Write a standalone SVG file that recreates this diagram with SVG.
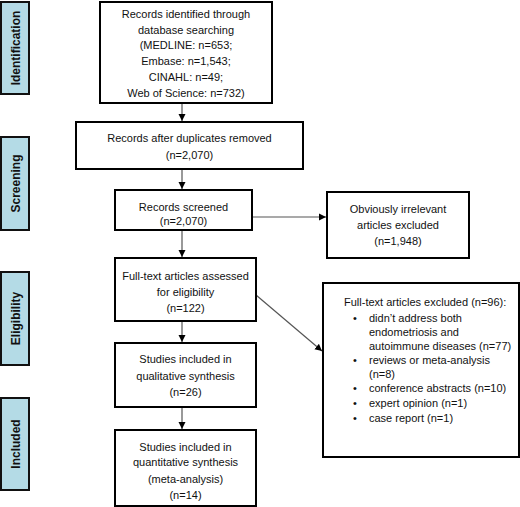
<svg xmlns="http://www.w3.org/2000/svg" width="520" height="507" viewBox="0 0 520 507">
<style>
.side{fill:#b4dbe6;stroke:#111;stroke-width:2}
.box{fill:#fff;stroke:#000;stroke-width:2}
text{font-family:"Liberation Sans",Arial,sans-serif;font-size:11px;fill:#111}
.c{text-anchor:middle}
.lab{font-weight:bold;font-size:12px;text-anchor:middle}
.conn{stroke:#555;stroke-width:1.2;fill:none;marker-end:url(#ah)}
</style>
<defs>
<marker id="ah" markerWidth="8" markerHeight="8" refX="7" refY="4" orient="auto" markerUnits="userSpaceOnUse">
<path d="M0,0.5 L7,4 L0,7.5 Z" fill="#000"/>
</marker>
</defs>
<rect width="520" height="507" fill="#fff"/>
<g id="stage-identification"><rect class="side" x="1" y="2" width="28" height="92"/><text class="lab" transform="translate(19.5,48) rotate(-90)">Identification</text></g>
<g id="stage-screening"><rect class="side" x="1" y="137" width="28" height="93"/><text class="lab" transform="translate(19.5,183.5) rotate(-90)">Screening</text></g>
<g id="stage-eligibility"><rect class="side" x="1" y="272" width="28" height="93"/><text class="lab" transform="translate(19.5,318.5) rotate(-90)">Eligibility</text></g>
<g id="stage-included"><rect class="side" x="1" y="398" width="28" height="92"/><text class="lab" transform="translate(19.5,444) rotate(-90)">Included</text></g>

<g id="connectors">
<line class="conn" x1="182" y1="103" x2="182" y2="121"/>
<line class="conn" x1="182" y1="169" x2="182" y2="189"/>
<line class="conn" x1="182" y1="230" x2="182" y2="257"/>
<line class="conn" x1="182" y1="321" x2="182" y2="342"/>
<line class="conn" x1="182" y1="407" x2="182" y2="429"/>
<line class="conn" x1="252" y1="217" x2="326" y2="217"/>
<line class="conn" x1="256" y1="295" x2="322" y2="351"/>
</g>

<g id="n-identified"><rect class="box" x="100" y="2" width="172" height="101"/>
<text class="c" x="186" y="18">Records identified through</text>
<text class="c" x="186" y="33.5">database searching</text>
<text class="c" x="186" y="49">(MEDLINE: n=653;</text>
<text class="c" x="186" y="65">Embase: n=1,543;</text>
<text class="c" x="186" y="81">CINAHL: n=49;</text>
<text class="c" x="186" y="97">Web of Science: n=732)</text></g>

<g id="n-duplicates"><rect class="box" x="76" y="122" width="227" height="47"/>
<text class="c" x="189.5" y="142">Records after duplicates removed</text>
<text class="c" x="189.5" y="159">(n=2,070)</text></g>

<g id="n-screened"><rect class="box" x="115" y="190" width="137" height="40"/>
<text class="c" x="183.5" y="210.5">Records screened</text>
<text class="c" x="183.5" y="225">(n=2,070)</text></g>

<g id="n-irrelevant"><rect class="box" x="327" y="192" width="142" height="66"/>
<text class="c" x="398" y="213">Obviously irrelevant</text>
<text class="c" x="398" y="229">articles excluded</text>
<text class="c" x="398" y="245">(n=1,948)</text></g>

<g id="n-fulltext"><rect class="box" x="115" y="258" width="141" height="63"/>
<text class="c" x="185.5" y="280">Full-text articles assessed</text>
<text class="c" x="185.5" y="296">for eligibility</text>
<text class="c" x="185.5" y="312">(n=122)</text></g>

<g id="n-qualitative"><rect class="box" x="115" y="343" width="141" height="64"/>
<text class="c" x="185.5" y="363">Studies included in</text>
<text class="c" x="185.5" y="380">qualitative synthesis</text>
<text class="c" x="185.5" y="396">(n=26)</text></g>

<g id="n-quantitative"><rect class="box" x="115" y="430" width="141" height="76"/>
<text class="c" x="185.5" y="451">Studies included in</text>
<text class="c" x="185.5" y="466">quantitative synthesis</text>
<text class="c" x="185.5" y="483">(meta-analysis)</text>
<text class="c" x="185.5" y="499">(n=14)</text></g>

<g id="n-excluded"><rect class="box" x="323" y="283" width="196" height="174"/>
<text x="344" y="306">Full-text articles excluded (n=96):</text>
<text x="353" y="322">•</text><text x="369" y="322">didn’t address both</text>
<text x="369" y="336">endometriosis and</text>
<text x="369" y="350">autoimmune diseases (n=77)</text>
<text x="353" y="364">•</text><text x="369" y="364">reviews or meta-analysis</text>
<text x="369" y="378">(n=8)</text>
<text x="353" y="392">•</text><text x="369" y="392">conference abstracts (n=10)</text>
<text x="353" y="407">•</text><text x="369" y="407">expert opinion (n=1)</text>
<text x="353" y="422">•</text><text x="369" y="422">case report (n=1)</text></g>
</svg>
